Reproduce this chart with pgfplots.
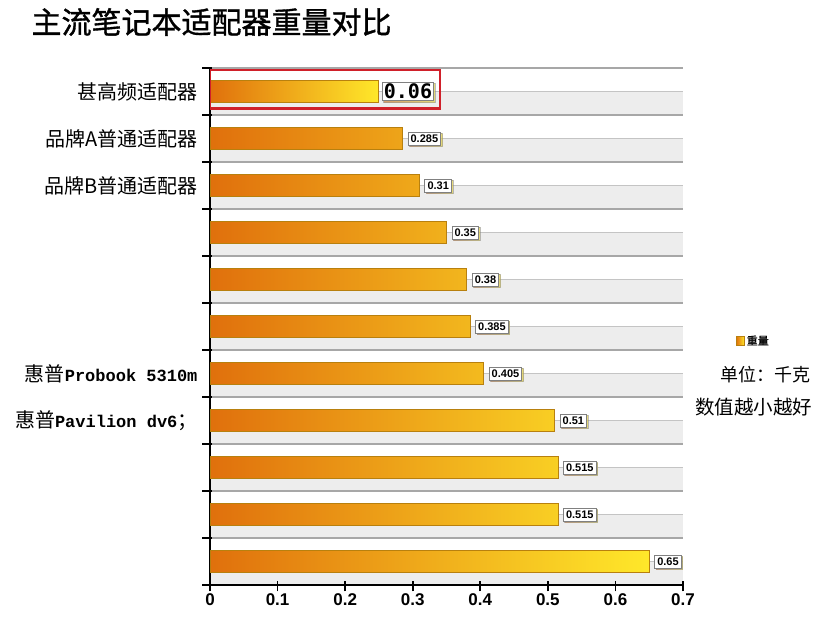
\documentclass[border=0pt]{standalone}
\usepackage{fontspec}
\usepackage{pgfplots}
\usepackage{pgfplotstable}
\pgfplotsset{compat=1.18}
\usetikzlibrary{shadows}
\setmainfont{Liberation Sans}
\newfontfamily\cjk{Noto Sans CJK SC}
\newfontfamily\cjkb[FakeBold=1.2]{Noto Sans CJK SC}
\newfontfamily\mono{Liberation Mono}
\newfontfamily\monob{DejaVu Sans Mono}

\definecolor{barL}{HTML}{E0700C}
\definecolor{barR}{HTML}{FFE82A}
\definecolor{barEdge}{HTML}{B8800E}
\definecolor{band}{HTML}{EDEDED}
\definecolor{gridc}{HTML}{C4C4C4}
\definecolor{boxred}{HTML}{D0202A}

% rows from the top: y = 10 is the first bar
\pgfplotstableread{
y v lbl
9 0.285 0.285
8 0.31 0.31
7 0.35 0.35
6 0.38 0.38
5 0.385 0.385
4 0.405 0.405
3 0.51 0.51
2 0.515 0.515
1 0.515 0.515
0 0.65 0.65
}\weights
\pgfplotstableread{
y v lbl
10 0.25 0.06
}\first

\begin{document}
\begin{tikzpicture}
\path (0,0) rectangle (822pt,623pt);
\begin{axis}[
  at={(210pt,38pt)}, anchor=south west,
  scale only axis, width=473pt, height=517pt,
  set layers,
  xbar, bar shift=0pt, bar width=22pt,
  xmin=0, xmax=0.7, ymin=-0.5, ymax=10.5,
  axis x line*=bottom, axis y line*=left,
  axis line style={line width=1.8pt, black, -},
  xtick={0,0.1,0.2,0.3,0.4,0.5,0.6,0.7},
  /pgf/number format/assume math mode=true,
  xticklabel style={font=\bfseries\fontsize{17}{17}\selectfont},
  xtick style={line width=1.6pt, black, yshift=-1.5pt},
  tick align=center, major tick length=10pt,
  ytick={0,...,10},
  yticklabels={,,,{\cjk 惠普}{\mono\bfseries\fontsize{17}{17}\selectfont Pavilion dv6}{\cjk ；},
    {\cjk 惠普}{\mono\bfseries\fontsize{17}{17}\selectfont Probook 5310m},,,,
    品牌B普通适配器,品牌A普通适配器,甚高频适配器},
  ytick style={draw=none},
  yticklabel style={font=\cjk\fontsize{20}{20}\selectfont, xshift=-4pt},
  extra y ticks={-0.5,0.5,...,10.5},
  extra y tick labels={},
  extra y tick style={ytick style={draw=black, line width=1.6pt, xshift=-3pt}},
  legend style={at={(axis description cs:1.105,0.472)}, anchor=west,
    draw=none, fill=none, font=\cjkb\fontsize{11}{11}\selectfont},
  legend image code/.code={\draw[#1] (0pt,-4.5pt) rectangle (8pt,4.5pt);},
]
\begin{pgfonlayer}{axis background}
\pgfplotsinvokeforeach{0,...,10}{
  \fill[band] (axis cs:0,#1-0.5) rectangle (axis cs:0.7,#1);
  \draw[gridc, line width=0.8pt] (axis cs:0,#1) -- (axis cs:0.7,#1);
}
\pgfplotsinvokeforeach{-0.5,0.5,...,10.5}{
  \draw[gridc!85!black, line width=1.2pt] (axis cs:0,#1) -- (axis cs:0.7,#1);
}
\end{pgfonlayer}

\addplot[draw=barEdge, line width=0.9pt, left color=barL, right color=barR,
  point meta=explicit symbolic, nodes near coords,
  nodes near coords style={anchor=west, xshift=5pt, draw=gray, fill=white,
    inner sep=2.6pt, font=\bfseries\fontsize{11}{11}\selectfont, text=black,
    drop shadow={shadow xshift=1.5pt, shadow yshift=-1.5pt, fill=gray!70}}]
  table[x=v, y=y, meta=lbl] {\weights};
\addlegendentry{重量}

\addplot[forget plot, draw=barEdge, line width=0.9pt, left color=barL, right color=barR,
  point meta=explicit symbolic, nodes near coords,
  nodes near coords style={anchor=west, xshift=3pt, draw=gray, fill=white,
    inner sep=1.5pt, font=\monob\bfseries\fontsize{20}{20}\selectfont, text=black,
    drop shadow={shadow xshift=1.5pt, shadow yshift=-1.5pt, fill=gray!70}}]
  table[x=v, y=y, meta=lbl] {\first};

\draw[boxred, line width=2.4pt] (axis cs:0,10.46) rectangle (axis cs:0.34,9.64);
\end{axis}
\node[anchor=west, font=\cjkb\fontsize{30}{30}\selectfont] at (28pt,601pt) {主流笔记本适配器重量对比};
\node[anchor=east, font=\cjk\fontsize{18}{18}\selectfont] at (814pt,248pt) {单位：千克};
\node[anchor=east, font=\cjk\fontsize{19.5}{19.5}\selectfont] at (816pt,216pt) {数值越小越好};
\end{tikzpicture}
\end{document}
